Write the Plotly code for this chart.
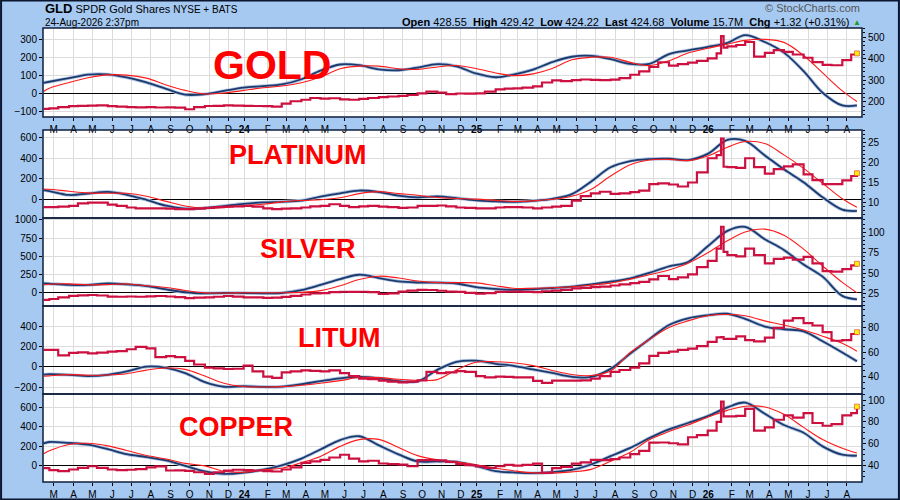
import pandas as pd
import plotly.graph_objects as go

### Stage 1

# monthly sample dates for the smooth indicator lines, semi-monthly for price
months = pd.date_range("2023-03-01", "2026-08-01", freq="MS")
line_dates = [pd.Timestamp("2023-02-20")] + list(months) + [pd.Timestamp("2026-08-24")]
price_dates = [pd.Timestamp("2023-02-20")]
for m in months:
    price_dates += [m, m + pd.Timedelta(days=14)]
    if m == pd.Timestamp("2026-01-01"):
        price_dates += [pd.Timestamp("2026-01-22"), pd.Timestamp("2026-01-26")]
price_dates.append(pd.Timestamp("2026-08-24"))

tick_labels = ["M", "A", "M", "J", "J", "A", "S", "O", "N", "D",
               "<b>24</b>", "F", "M", "A", "M", "J", "J", "A", "S", "O", "N", "D",
               "<b>25</b>", "F", "M", "A", "M", "J", "J", "A", "S", "O", "N", "D",
               "<b>26</b>", "F", "M", "A", "M", "J", "J", "A"]

gold_blue = [60, 66, 86, 106, 107, 90, 62, 26, -6, -3, 15,
             33, 42, 51, 80, 128, 162, 158, 135, 130, 145, 164, 152,
             112, 91, 106, 134, 175, 205, 210, 192, 165, 165, 220, 240,
             260, 282, 325, 287, 228, 125, 5, -66, -66]
gold_red = [12, 30, 62, 88, 104, 103, 86, 48, 18, -2, 3,
            18, 33, 42, 60, 92, 138, 153, 153, 138, 135, 148, 156,
            140, 115, 100, 110, 140, 188, 202, 202, 174, 156, 183, 226,
            252, 275, 296, 302, 285, 212, 115, 15, -44]
gold_price = [168, 170, 176, 180, 182, 183, 184, 180, 178, 176, 175, 176, 174,
              175, 173, 166, 176, 181, 182, 184, 183,
              182, 181, 180, 178, 192, 203, 210, 218, 215, 217, 212, 210,
              214, 218, 222, 225, 228, 232, 240, 248, 243, 236, 239, 238,
              240, 248, 258, 262, 263, 266, 272, 290, 300, 296, 301, 304,
              302, 301, 303, 310, 326, 342, 362, 384, 368, 375, 382, 390,
              402, 425, 505, 452, 458, 464, 478, 410, 428, 440, 432, 420,
              405, 385, 372, 370, 394, 420, 425]

plat_blue = [90, 80, 42, 56, 72, 44, -5, -62, -90, -85, -65,
             -44, -30, -24, -12, 25, 58, 85, 70, 35, 19, 28, 12,
             -10, -20, -25, -15, 4, 50, 170, 310, 370, 390, 393, 380,
             440, 575, 565, 425, 290, 165, 19, -100, -113]
plat_red = [97, 97, 78, 62, 58, 58, 30, -20, -65, -87, -80,
            -62, -48, -25, -12, -5, 15, 55, 74, 55, 40, 17, 8,
            2, -10, -20, -15, 0, 30, 95, 225, 335, 380, 387, 375,
            420, 505, 560, 540, 430, 300, 155, 5, -77]
plat_price = [8.9, 8.9, 9.0, 9.2, 9.8, 10.0, 10.0, 9.5, 9.2, 8.8, 8.6, 8.6, 8.6,
              8.5, 8.4, 8.4, 8.5, 8.7, 8.9, 9.0, 9.1,
              9.2, 9.0, 8.6, 8.4, 8.5, 8.6, 8.8, 9.1, 9.2, 9.6, 9.2, 8.9,
              9.1, 9.2, 9.0, 8.9, 8.7, 8.8, 9.2, 9.2, 9.3, 9.1, 8.8, 8.7,
              8.6, 8.6, 8.8, 8.9, 8.9, 8.8, 8.6, 8.8, 9.0, 9.2, 10.5, 11.6,
              12.3, 12.7, 12.2, 12.3, 12.6, 13.0, 14.6, 14.8, 14.5, 14.0, 15.0, 17.5,
              21.0, 21.8, 25.9, 18.9, 18.8, 18.6, 21.0, 18.8, 17.2, 18.3, 19.0, 19.5,
              17.0, 15.6, 14.6, 14.6, 15.5, 16.6, 17.3]

silv_blue = [133, 128, 110, 110, 130, 118, 95, 50, 10, -4, 0,
             0, -4, 0, 40, 110, 190, 250, 205, 158, 143, 142, 130,
             80, 55, 42, 52, 68, 86, 118, 155, 200, 275, 365, 425,
             640, 850, 905, 735, 590, 390, 224, -40, -87]
silv_red = [110, 120, 125, 112, 115, 124, 100, 75, 35, 2, 0,
            4, 4, 4, 8, 32, 100, 185, 230, 205, 165, 142, 142,
            138, 100, 65, 65, 72, 85, 108, 135, 190, 250, 316, 408,
            550, 715, 835, 875, 790, 600, 370, 145, 4]
silv_price = [17.5, 18.5, 20.5, 22.3, 23.0, 23.4, 22.8, 21.5, 21.3, 21.6, 21.3, 21.8, 22.2,
              21.6, 20.8, 19.6, 20.2, 20.6, 21.3, 22.2, 21.5,
              20.6, 20.4, 19.8, 20.2, 21.0, 22.4, 24.0, 25.5, 25.8, 26.8, 27.4, 27.2,
              27.4, 27.0, 24.8, 25.5, 27.5, 28.7, 29.6, 29.5, 28.6, 27.6, 27.2, 26.0,
              25.0, 25.8, 27.2, 27.4, 27.6, 27.3, 27.0, 28.0, 28.7, 29.6, 31.5, 32.2,
              33.0, 33.6, 35.0, 36.5, 38.0, 39.4, 42.5, 46.6, 42.8, 45.0, 48.5, 57.5,
              65.0, 80.0, 106.7, 76.0, 72.0, 70.5, 80.0, 72.0, 62.0, 67.5, 69.0, 66.5,
              70.0, 62.0, 52.5, 52.0, 55.0, 59.5, 61.5]

lit_blue = [-76, -72, -78, -90, -78, -45, 2, -10, -62, -150, -195,
            -190, -196, -194, -170, -140, -112, -99, -112, -140, -142, -30, 48,
            60, 30, 10, -25, -60, -98, -99, -20, 130, 270, 410, 475,
            505, 520, 470, 395, 368, 348, 250, 140, 54]
lit_red = [-92, -88, -76, -82, -80, -67, -32, -11, -25, -90, -160,
           -192, -197, -194, -180, -160, -135, -105, -106, -122, -132, -125, -30,
           45, 50, 40, 12, -35, -75, -85, -40, 140, 267, 385, 450,
           500, 512, 500, 450, 410, 360, 300, 230, 153]
lit_price = [62, 62, 57.5, 59.5, 60.0, 59.2, 59.8, 60.5, 61.0, 62.5, 64.5, 63.3, 56.0,
             56.8, 56.0, 53.0, 50.0, 47.5, 46.8, 46.3, 46.5,
             49.0, 44.4, 40.0, 39.0, 43.5, 44.4, 45.2, 44.8, 44.4, 45.2, 43.0, 40.5,
             38.5, 38.0, 36.7, 36.0, 35.4, 36.0, 37.0, 44.0, 43.0, 43.5, 44.5, 44.0,
             40.5, 39.4, 40.0, 39.8, 39.5, 39.4, 36.5, 35.0, 36.7, 36.8, 36.7, 37.0,
             38.5, 40.5, 44.0, 45.5, 47.5, 51.0, 57.0, 59.5, 60.5, 62.0, 63.0, 65.0,
             68.5, 72.3, 72.5, 71.0, 71.0, 73.0, 70.0, 69.0, 72.0, 80.0, 86.0, 88.0,
             84.0, 82.0, 76.5, 69.5, 70.0, 75.0, 76.5]

copp_blue = [230, 245, 235, 218, 172, 120, 90, 55, 0, -58, -83,
             -70, -40, 5, 75, 168, 265, 304, 210, 118, 45, 45, 40,
             0, -55, -68, -75, -65, -42, 14, 100, 185, 285, 375, 440,
             510, 600, 650, 535, 420, 340, 200, 114, 104]
copp_red = [124, 155, 220, 232, 205, 158, 106, 70, 25, 0, -55,
            -66, -40, -25, 32, 97, 200, 269, 272, 188, 105, 62, 38,
            12, -24, -50, -72, -75, -62, -36, 48, 140, 268, 352, 420,
            500, 570, 612, 605, 530, 395, 270, 180, 131]
copp_price = [37.8, 36.0, 35.0, 36.5, 38.0, 39.5, 38.0, 36.5, 36.0, 36.3, 36.8, 38.5, 39.3,
              35.6, 35.8, 35.2, 34.0, 32.6, 34.0, 35.5, 36.3,
              36.0, 35.6, 35.0, 34.7, 36.5, 38.5, 42.6, 44.0, 45.4, 47.5, 50.0, 46.5,
              44.0, 44.5, 42.0, 41.5, 41.0, 39.5, 45.0, 45.0, 44.8, 43.5, 41.5, 40.5,
              39.3, 38.0, 39.5, 40.8, 40.0, 40.8, 41.8, 33.5, 37.8, 39.0, 41.8, 43.0,
              45.4, 45.0, 46.0, 47.5, 50.5, 53.5, 61.0, 61.2, 60.5, 59.5, 66.0, 68.0,
              72.0, 80.0, 98.6, 85.0, 85.0, 85.5, 92.0, 72.0, 75.0, 82.0, 86.0, 84.0,
              88.0, 79.0, 76.5, 78.0, 86.0, 88.0, 94.0]

### Stage 2 - panel setup

FONT = "Liberation Sans"
BG = "#A6C9F2"
NAVY = "#1B3A6E"
HALO = "#B4C6E2"
RED = "#FF1A1A"
PRICE = "#CC1040"

# name, blue, red, price, left range, left dtick, right range, right dtick, right minor, domain, label x, label y, label size
panels = [
    ("GOLD", gold_blue, gold_red, gold_price, [-130, 365], 100, [130, 543], 100, 20, [0.804, 1.0], 0.2794, 0.9185, 41),
    ("PLATINUM", plat_blue, plat_red, plat_price, [-181, 671], 200, [6.2, 28], 5, 1, [0.5815, 0.7753], 0.3111, 0.7203, 27),
    ("SILVER", silv_blue, silv_red, silv_price, [-178, 1027], 250, [10, 117.4], 25, 5, [0.3877, 0.5815], 0.3233, 0.5143, 27),
    ("LITUM", lit_blue, lit_red, lit_price, [-266, 596], 200, [25.8, 98], 20, 5, [0.1938, 0.3877], 0.3617, 0.3172, 27),
    ("COPPER", copp_blue, copp_red, copp_price, [-166, 738], 200, [25.1, 105.5], 20, 5, [0.0, 0.1938], 0.2355, 0.1211, 27),
]

tick_dates = [m + pd.Timedelta(days=1 if m.month == 1 else 7) for m in months]

fig = go.Figure()
layout = dict(
    width=900, height=500, autosize=False,
    paper_bgcolor=BG, plot_bgcolor="white",
    margin=dict(l=43, r=38, t=28, b=18),
    showlegend=False,
    font=dict(family=FONT, size=10, color="black"),
)

xcommon = dict(
    type="date", range=["2023-02-19", "2026-09-01"],
    tickmode="array", tickvals=tick_dates, ticktext=tick_labels,
    showgrid=True, gridcolor="#DCDCDC", gridwidth=1,
    ticks="outside", ticklen=3, tickcolor="black",
    tickfont=dict(family=FONT, size=10, color="black"),
    showline=False, zeroline=False, tickangle=0, automargin=False,
)
layout["xaxis"] = dict(xcommon, anchor="y5", domain=[0, 1])
layout["xaxis2"] = dict(xcommon, anchor="y", domain=[0, 1], matches="x")

shapes = []
annotations = []
for i, (name, blue, red, price, lr, ld, rr, rd, rminor, dom, lx, ly, lsz) in enumerate(panels):
    assert len(blue) == len(line_dates) and len(red) == len(line_dates), name
    assert len(price) == len(price_dates), name
    k = i + 1
    xa = "x2" if k == 1 else "x"
    yl = "y" if k == 1 else "y%d" % k
    yr = "y%d" % (k + 5)

    fig.add_trace(go.Scatter(x=line_dates, y=blue, xaxis=xa, yaxis=yl, mode="lines",
                             line=dict(color=HALO, width=3.5, shape="spline", smoothing=1.0),
                             hoverinfo="skip"))
    fig.add_trace(go.Scatter(x=line_dates, y=blue, xaxis=xa, yaxis=yl, mode="lines",
                             line=dict(color=NAVY, width=1.8, shape="spline", smoothing=1.0)))
    fig.add_trace(go.Scatter(x=line_dates, y=red, xaxis=xa, yaxis=yl, mode="lines",
                             line=dict(color=RED, width=1.1, shape="spline", smoothing=1.0)))
    fig.add_trace(go.Scatter(x=price_dates, y=price, xaxis=xa, yaxis=yr, mode="lines",
                             line=dict(color=PRICE, width=2.2, shape="hv")))
    fig.add_trace(go.Scatter(x=[price_dates[-1]], y=[price[-1]], xaxis=xa, yaxis=yr, mode="markers",
                             marker=dict(color="#FFF200", size=5, symbol="square",
                                         line=dict(color=PRICE, width=0.5))))

    lkey = "yaxis" if k == 1 else "yaxis%d" % k
    layout[lkey] = dict(
        domain=dom, anchor=xa, range=lr, dtick=ld, tick0=0,
        showgrid=True, gridcolor="#DCDCDC",
        zeroline=True, zerolinecolor="black", zerolinewidth=1.2,
        ticks="outside", ticklen=3, tickcolor="black", automargin=False,
        tickfont=dict(family=FONT, size=10, color="black"),
    )
    layout["yaxis%d" % (k + 5)] = dict(
        overlaying=yl, anchor=xa, side="right", range=rr, dtick=rd, tick0=0,
        showgrid=False, zeroline=False, automargin=False,
        ticks="outside", ticklen=3, tickcolor="black",
        minor=dict(ticks="outside", ticklen=2, dtick=rminor, tickcolor="black"),
        tickfont=dict(family=FONT, size=10, color="black"),
    )
    shapes.append(dict(type="rect", xref="paper", yref="paper", x0=0, x1=1, y0=dom[0], y1=dom[1],
                       line=dict(color="#0E1E3C", width=1.5), layer="above"))
    annotations.append(dict(text="<b>%s</b>" % name, xref="paper", yref="paper", x=lx, y=ly,
                            xanchor="center", yanchor="middle", showarrow=False,
                            font=dict(family=FONT, size=lsz, color="#FF0000")))

# outer frame of the image
shapes.append(dict(type="rect", xref="paper", yref="paper", x0=-0.0512, x1=1.0451, y0=-0.0385, y1=1.0606,
                   line=dict(color="#0A1530", width=2), layer="above"))

### Stage 3 - header text
annotations += [
    dict(text="<b><span style='font-size:13px'>GLD</span></b> <span style='font-size:11px'>SPDR Gold Shares</span>"
              " <span style='font-size:10px'>NYSE + BATS</span>",
         xref="paper", yref="paper", x=0.0, y=1.044, xanchor="left", yanchor="middle", showarrow=False,
         font=dict(family=FONT, size=11, color="black")),
    dict(text="24-Aug-2026 2:37pm", xref="paper", yref="paper", x=0.0, y=1.0132,
         xanchor="left", yanchor="middle", showarrow=False, font=dict(family=FONT, size=10, color="black")),
    dict(text="<b>Open</b> 428.55  <b>High</b> 429.42  <b>Low</b> 424.22  <b>Last</b> 424.68  "
              "<b>Volume</b> 15.7M  <b>Chg</b> +1.32 (+0.31%)",
         xref="paper", yref="paper", x=0.987, y=1.0132, xanchor="right", yanchor="middle", showarrow=False,
         font=dict(family=FONT, size=11, color="black")),
    dict(text="▲", xref="paper", yref="paper", x=0.9943, y=1.0132, xanchor="center", yanchor="middle",
         showarrow=False, font=dict(family=FONT, size=8, color="#1A9A2A")),
    dict(text="© StockCharts.com", xref="paper", yref="paper", x=1.0, y=1.044, xanchor="right",
         yanchor="middle", showarrow=False, font=dict(family=FONT, size=11, color="#555555")),
]

layout["shapes"] = shapes
layout["annotations"] = annotations
fig.update_layout(**layout)

# page body has a default 8px margin, drop it so the figure sits at 0,0
fig.write_html("out.html", config={"displayModeBar": False},
               post_script="document.body.style.margin='0';")
